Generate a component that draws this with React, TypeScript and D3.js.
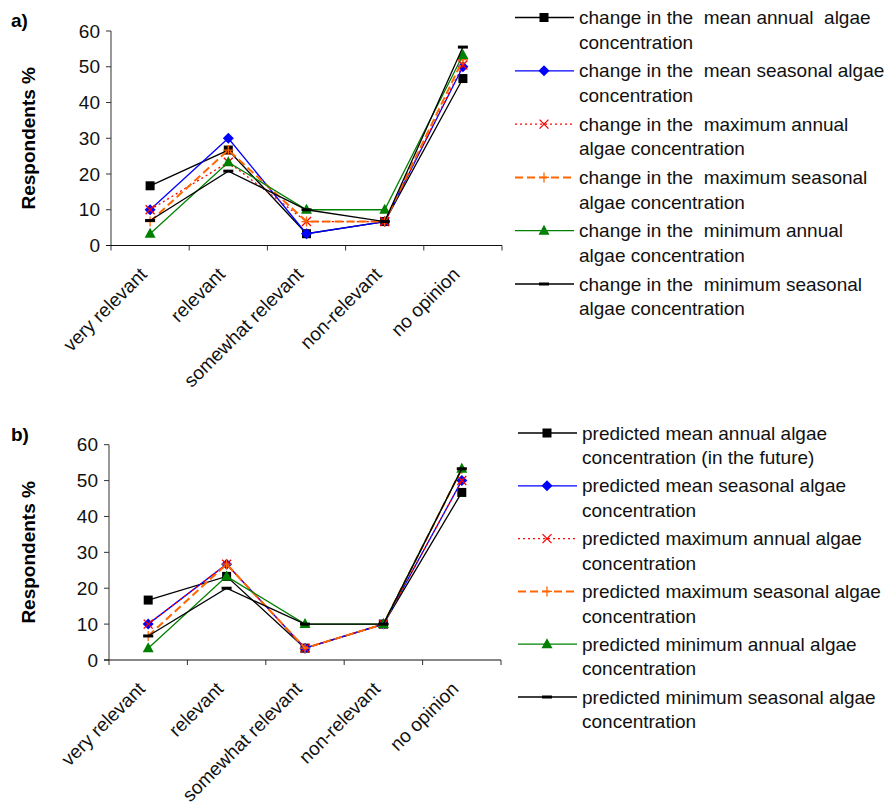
import React, { useEffect, useRef } from "react";
import * as d3 from "d3";

const categories = ["very relevant", "relevant", "somewhat relevant", "non-relevant", "no opinion"];
const yTicks = [0, 10, 20, 30, 40, 50, 60];

// panel a) change in ...
const aMeanAnnual = [16.7, 26.7, 3.3, 6.7, 46.7];
const aMeanSeasonal = [10, 30, 3.3, 6.7, 50];
const aMaxAnnual = [10, 23.3, 6.7, 6.7, 50.5];
const aMaxSeasonal = [6.7, 26.7, 6.7, 6.7, 52];
const aMinAnnual = [3.3, 23.3, 10, 10, 53.3];
const aMinSeasonal = [7, 20.8, 10, 6.7, 55.5];

const aLabels = [
  ["change in the  mean annual  algae", "concentration"],
  ["change in the  mean seasonal algae", "concentration"],
  ["change in the  maximum annual", "algae concentration"],
  ["change in the  maximum seasonal", "algae concentration"],
  ["change in the  minimum annual", "algae concentration"],
  ["change in the  minimum seasonal", "algae concentration"],
];

// panel b) predicted ...
const bMeanAnnual = [16.7, 23.3, 3.3, 10, 46.7];
const bMeanSeasonal = [10, 26.7, 3.3, 10, 50];
const bMaxAnnual = [10, 26.7, 3.3, 10, 50];
const bMaxSeasonal = [6.7, 26.7, 3.3, 10, 53.3];
const bMinAnnual = [3.3, 23.3, 10, 10, 53.3];
const bMinSeasonal = [6.7, 20, 10, 10, 53.3];

const bLabels = [
  ["predicted mean annual algae", "concentration (in the future)"],
  ["predicted mean seasonal algae", "concentration"],
  ["predicted maximum annual algae", "concentration"],
  ["predicted maximum seasonal algae", "concentration"],
  ["predicted minimum annual algae", "concentration"],
  ["predicted minimum seasonal algae", "concentration"],
];

const styles = [
  { color: "#000000", dash: null, width: 1.3, marker: "square" },
  { color: "#0000ff", dash: null, width: 1.3, marker: "diamond" },
  { color: "#ff0000", dash: "2,3", width: 1.3, marker: "x" },
  { color: "#ff6600", dash: "8,4", width: 2, marker: "plus" },
  { color: "#008000", dash: null, width: 1.3, marker: "triangle" },
  { color: "#000000", dash: null, width: 1.3, marker: "dash" },
];

const FONT = "Arial, 'Liberation Sans', sans-serif";

function drawMarker(g, kind, x, y, color) {
  if (kind === "square") {
    g.append("rect").attr("x", x - 4.5).attr("y", y - 4.5).attr("width", 9).attr("height", 9).attr("fill", color);
  } else if (kind === "diamond") {
    g.append("path").attr("d", `M${x},${y - 5.5}L${x + 5.5},${y}L${x},${y + 5.5}L${x - 5.5},${y}Z`).attr("fill", color);
  } else if (kind === "triangle") {
    g.append("path").attr("d", `M${x},${y - 6}L${x + 5.5},${y + 4}L${x - 5.5},${y + 4}Z`).attr("fill", color);
  } else if (kind === "x") {
    g.append("path").attr("d", `M${x - 4.5},${y - 4.5}L${x + 4.5},${y + 4.5}M${x + 4.5},${y - 4.5}L${x - 4.5},${y + 4.5}`)
      .attr("stroke", color).attr("stroke-width", 1.3);
  } else if (kind === "plus") {
    g.append("path").attr("d", `M${x - 5},${y}L${x + 5},${y}M${x},${y - 5}L${x},${y + 5}`)
      .attr("stroke", color).attr("stroke-width", 1.3);
  } else if (kind === "dash") {
    g.append("rect").attr("x", x - 5).attr("y", y - 1.5).attr("width", 10).attr("height", 3).attr("fill", color);
  }
}

function drawPanel(svg, opts) {
  const { left, right, top, bottom, series, labels, tag, legendX, legendY, legendStep } = opts;
  const g = svg.append("g");

  const x = d3.scaleBand().domain(categories).range([left, right]).paddingInner(0).paddingOuter(0);
  const y = d3.scaleLinear().domain([0, 60]).range([bottom, top]);
  const cx = (c) => x(c) + x.bandwidth() / 2;

  // panel tag
  g.append("text").attr("x", 11).attr("y", top - 4).attr("font-family", FONT).attr("font-size", 19)
    .attr("font-weight", "bold").text(tag);

  // y axis title
  g.append("text")
    .attr("transform", `translate(35,${(top + bottom) / 2}) rotate(-90)`)
    .attr("text-anchor", "middle").attr("font-family", FONT).attr("font-size", 19).attr("font-weight", "bold")
    .text("Respondents %");

  // y axis
  g.append("line").attr("x1", left).attr("x2", left).attr("y1", top).attr("y2", bottom + 5).attr("stroke", "#333");
  yTicks.forEach((t) => {
    g.append("line").attr("x1", left - 5).attr("x2", left).attr("y1", y(t)).attr("y2", y(t)).attr("stroke", "#333");
    g.append("text").attr("x", left - 11).attr("y", y(t)).attr("dy", "0.35em").attr("text-anchor", "end")
      .attr("font-family", FONT).attr("font-size", 19).attr("fill", "#111").text(t);
  });

  // x axis
  g.append("line").attr("x1", left - 5).attr("x2", right).attr("y1", bottom).attr("y2", bottom).attr("stroke", "#111");
  categories.forEach((c) => {
    const bx = x(c) + x.bandwidth();
    g.append("line").attr("x1", bx).attr("x2", bx).attr("y1", bottom).attr("y2", bottom + 5).attr("stroke", "#333");
    g.append("text")
      .attr("transform", `translate(${cx(c) - 2},${bottom + 30}) rotate(-45)`)
      .attr("text-anchor", "end").attr("font-family", FONT).attr("font-size", 19).attr("fill", "#111")
      .text(c);
  });

  // series
  series.forEach((vals, si) => {
    const st = styles[si];
    const line = d3.line().x((d, i) => cx(categories[i])).y((d) => y(d));
    const p = g.append("path").datum(vals).attr("d", line).attr("fill", "none")
      .attr("stroke", st.color).attr("stroke-width", st.width);
    if (st.dash) p.attr("stroke-dasharray", st.dash);
    vals.forEach((v, i) => drawMarker(g, st.marker, cx(categories[i]), y(v), st.color));
  });

  // legend
  labels.forEach((lines, i) => {
    const st = styles[i];
    const ly = legendY + i * legendStep;
    const l = g.append("line").attr("x1", legendX).attr("x2", legendX + 59).attr("y1", ly).attr("y2", ly)
      .attr("stroke", st.color).attr("stroke-width", st.width);
    if (st.dash) l.attr("stroke-dasharray", st.dash);
    drawMarker(g, st.marker, legendX + 29, ly, st.color);
    lines.forEach((t, k) => {
      g.append("text").attr("x", legendX + 64).attr("y", ly + k * 24.5).attr("dy", "0.35em")
        .attr("font-family", FONT).attr("font-size", 19).attr("fill", "#111")
        .style("white-space", "pre").text(t);
    });
  });
}

export default function App() {
  const ref = useRef(null);

  useEffect(() => {
    const svg = d3.select(ref.current);
    svg.selectAll("*").remove();

    drawPanel(svg, {
      left: 111, right: 502, top: 31, bottom: 245.5,
      series: [aMeanAnnual, aMeanSeasonal, aMaxAnnual, aMaxSeasonal, aMinAnnual, aMinSeasonal],
      labels: aLabels, tag: "a)",
      legendX: 515, legendY: 17.5, legendStep: 53.3,
    });

    drawPanel(svg, {
      left: 109, right: 501, top: 444.7, bottom: 660,
      series: [bMeanAnnual, bMeanSeasonal, bMaxAnnual, bMaxSeasonal, bMinAnnual, bMinSeasonal],
      labels: bLabels, tag: "b)",
      legendX: 518, legendY: 433, legendStep: 52.8,
    });
  }, []);

  return (
    <svg
      ref={ref}
      width={895}
      height={808}
      style={{ position: "absolute", left: 0, top: 0, background: "#fff" }}
    />
  );
}
